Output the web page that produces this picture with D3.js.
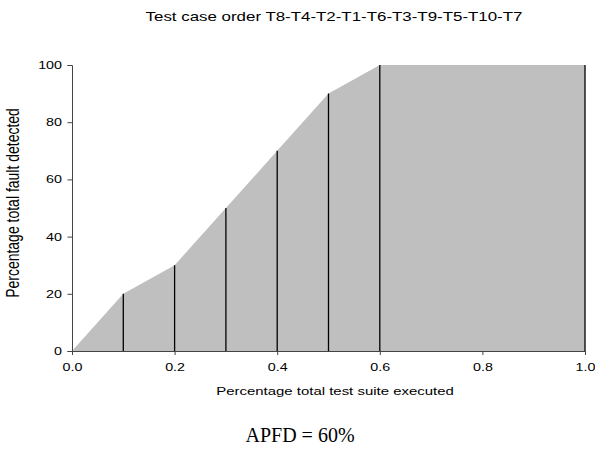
<!DOCTYPE html>
<html>
<head>
<meta charset="utf-8">
<script src="https://cdn.jsdelivr.net/npm/d3@7"></script>
<style>
  body { margin: 0; background: #fff; }
  text { font-family: "Liberation Sans", Arial, sans-serif; fill: #000; }
</style>
</head>
<body>
<div id="chart"></div>
<script>
// Fraction of the suite executed after each test case
const suiteFraction = [0, 0.1, 0.2, 0.3, 0.4, 0.5, 0.6, 0.7, 0.8, 0.9, 1.0];
// Cumulative percentage of faults detected
const faultPercent = [0, 20, 30, 50, 70, 90, 100, 100, 100, 100, 100];
// Test cases where a vertical marker is drawn
const markerFraction = [0.1, 0.2, 0.3, 0.4, 0.5, 0.6, 1.0];
const xTicks = [0, 0.2, 0.4, 0.6, 0.8, 1.0];
const yTicks = [0, 20, 40, 60, 80, 100];
const title = "Test case order T8-T4-T2-T1-T6-T3-T9-T5-T10-T7";
const xLabel = "Percentage total test suite executed";
const yLabel = "Percentage total fault detected";
const apfdLabel = "APFD = 60%";

const width = 595, height = 449;
const plotLeft = 72, plotRight = 585, plotTop = 65, plotBottom = 351;
// the original figure is stretched sideways, so its text is too
const stretch = 1.3;

const svg = d3.select("#chart").append("svg")
    .attr("width", width)
    .attr("height", height);

const x = d3.scaleLinear().domain([0, 1]).range([plotLeft, plotRight]);
const y = d3.scaleLinear().domain([0, 100]).range([plotBottom, plotTop]);

const pts = suiteFraction.map((d, i) => [d, faultPercent[i]]);
const lookup = new Map(pts.map(p => [p[0], p[1]]));

// Shaded area under the detection curve
const area = d3.area()
    .x(d => x(d[0]))
    .y0(y(0))
    .y1(d => y(d[1]));

svg.append("path")
    .datum(pts)
    .attr("d", area)
    .attr("fill", "#bfbfbf");

// Vertical markers
svg.selectAll(".marker")
    .data(markerFraction)
    .enter().append("line")
    .attr("class", "marker")
    .attr("x1", d => x(d))
    .attr("x2", d => x(d))
    .attr("y1", y(0))
    .attr("y2", d => y(lookup.get(d)))
    .attr("stroke", "#000")
    .attr("stroke-width", 1.3);

// Axes
const xAxis = svg.append("g")
    .attr("transform", "translate(0," + plotBottom + ")")
    .call(d3.axisBottom(x).tickValues(xTicks).tickFormat(d3.format(".1f")).tickSize(4).tickPadding(8));

const yAxis = svg.append("g")
    .attr("transform", "translate(" + plotLeft + ",0)")
    .call(d3.axisLeft(y).tickValues(yTicks).tickSize(4.5).tickPadding(5.5));

[xAxis, yAxis].forEach(function(a) {
    a.select(".domain").attr("stroke", "#444").attr("stroke-width", 1);
    a.selectAll(".tick line").attr("stroke", "#444");
    a.selectAll(".tick text")
        .attr("fill", "#000")
        .style("font-family", "'Liberation Sans', Arial, sans-serif")
        .style("font-size", "11px");
});
xAxis.selectAll(".tick text").attr("transform", "scale(" + stretch + ",1)");
yAxis.selectAll(".tick text")
    .attr("x", -10 / stretch)
    .attr("transform", "scale(" + stretch + ",1)");

// Labels, stretched sideways around their anchor
function label(txt, cx, cy, size, family, sx, rotate) {
    const g = svg.append("g")
        .attr("transform", "translate(" + cx + "," + cy + ") scale(" + sx + ",1)" + (rotate ? " rotate(-90)" : ""));
    g.append("text")
        .attr("text-anchor", "middle")
        .style("font-family", family)
        .style("font-size", size + "px")
        .text(txt);
}

const sans = "'Liberation Sans', Arial, sans-serif";
label(title, 334, 21, 13, sans, stretch, false);
label(xLabel, 335, 395, 11.5, sans, stretch, false);
label(yLabel, 19, 203, 14, sans, stretch, true);
// APFD line sits under the figure and is not stretched
label(apfdLabel, 300, 442, 20, "'Liberation Serif', 'Times New Roman', serif", 1, false);
</script>
</body>
</html>
